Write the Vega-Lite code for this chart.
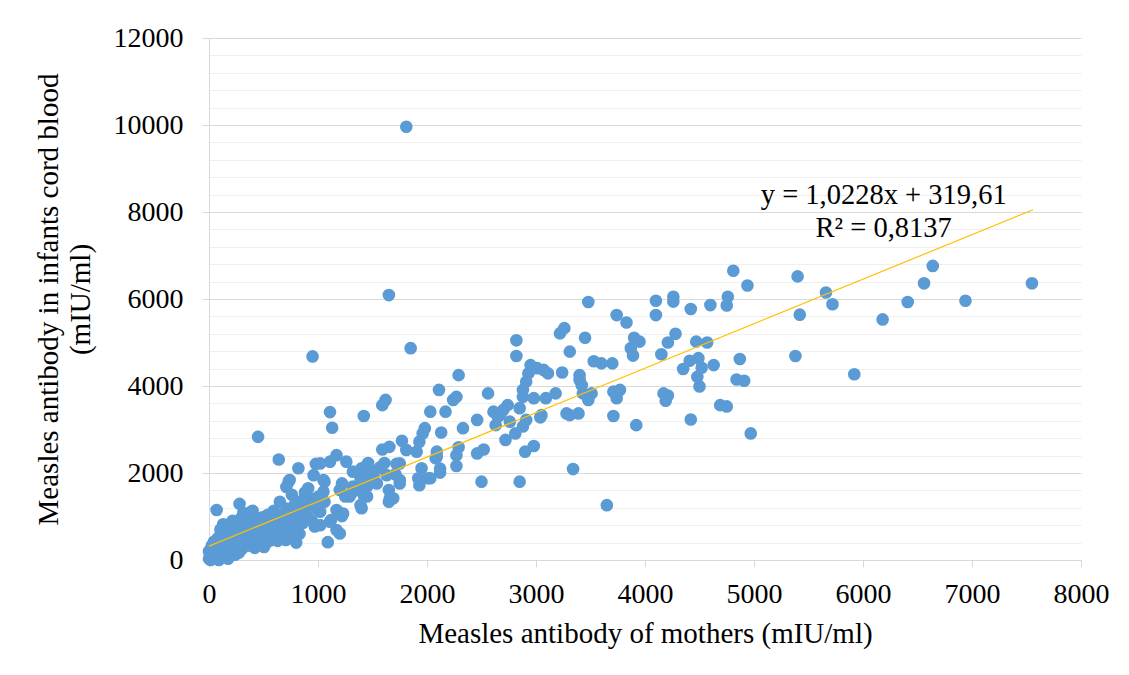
{
  "$schema": "https://vega.github.io/schema/vega-lite/v6.json",
  "width": 872,
  "height": 522,
  "autosize": {"type": "none"},
  "padding": {"left": 209, "top": 38, "right": 48, "bottom": 115},
  "background": "white",
  "config": {"view": {"stroke": null}, "font": "Liberation Serif"},
  "layer": [
    {
      "data": {"values": [
        {"m":1810,"c":9960},{"m":1650,"c":6090},{"m":1850,"c":4870},{"m":950,"c":4680},{"m":1590,"c":3560},{"m":1620,"c":3680},{"m":1420,"c":3310},{"m":1110,"c":3400},{"m":1130,"c":3040},{"m":450,"c":2830},{"m":640,"c":2310},{"m":820,"c":2110},
        {"m":3480,"c":5930},{"m":2820,"c":5050},{"m":3260,"c":5330},{"m":3220,"c":5210},{"m":3450,"c":5110},{"m":3310,"c":4790},{"m":2820,"c":4690},{"m":2290,"c":4250},{"m":2110,"c":3910},{"m":2240,"c":3680},{"m":2270,"c":3750},{"m":2030,"c":3410},{"m":2170,"c":3410},
        {"m":3900,"c":5110},{"m":3950,"c":5020},{"m":3890,"c":4700},{"m":3870,"c":4870},{"m":3530,"c":4570},{"m":3600,"c":4520},{"m":3700,"c":4520},{"m":3240,"c":4310},{"m":3400,"c":4250},{"m":3400,"c":4140},{"m":3420,"c":4020},{"m":3430,"c":3830},{"m":3480,"c":3680},{"m":2950,"c":4480},{"m":3010,"c":4410},{"m":3070,"c":4370},{"m":3110,"c":4290},{"m":2930,"c":4290},{"m":2910,"c":4100},{"m":2880,"c":3910},{"m":2880,"c":3750},{"m":2980,"c":3720},{"m":3090,"c":3720},{"m":3180,"c":3830},{"m":2850,"c":3490},{"m":2740,"c":3560},{"m":2610,"c":3410},{"m":2670,"c":3330},{"m":2560,"c":3830},{"m":2630,"c":3100},{"m":2650,"c":3300},{"m":2760,"c":3180},{"m":2720,"c":2760},{"m":2810,"c":2910},{"m":2880,"c":3070},{"m":2910,"c":3220},{"m":2900,"c":2490},{"m":2980,"c":2620},{"m":2850,"c":1800},{"m":3040,"c":3280},{"m":3050,"c":3330},{"m":3280,"c":3370},{"m":3310,"c":3330},{"m":3390,"c":3370},{"m":3710,"c":3310},{"m":3710,"c":3870},{"m":3770,"c":3910},{"m":3740,"c":3720},{"m":3920,"c":3100},{"m":3340,"c":2090},{"m":3650,"c":1260},{"m":2500,"c":1800},{"m":2460,"c":2450},{"m":2520,"c":2540},{"m":2460,"c":3220},{"m":2700,"c":3450},{"m":1980,"c":3030},{"m":2330,"c":3030},{"m":2130,"c":2930},{"m":2080,"c":2340},{"m":2090,"c":2490},{"m":2270,"c":2410},{"m":2290,"c":2590},{"m":2270,"c":2160},{"m":2120,"c":2010},{"m":2010,"c":1880},{"m":1930,"c":1720},{"m":3510,"c":3830},{"m":3740,"c":5630},{"m":3830,"c":5460},
        {"m":4810,"c":6650},{"m":4940,"c":6310},{"m":4760,"c":6050},{"m":4750,"c":5850},{"m":4600,"c":5860},{"m":5400,"c":6520},{"m":5420,"c":5640},{"m":5660,"c":6150},{"m":5720,"c":5880},{"m":6180,"c":5530},{"m":6410,"c":5930},{"m":6560,"c":6360},{"m":6640,"c":6760},{"m":6940,"c":5960},{"m":7550,"c":6360},{"m":4570,"c":5000},{"m":4470,"c":5020},{"m":4870,"c":4620},{"m":5380,"c":4690},{"m":4100,"c":5960},{"m":4260,"c":6050},{"m":4260,"c":5940},{"m":4100,"c":5630},{"m":4420,"c":5770},{"m":4280,"c":5200},{"m":4210,"c":5000},{"m":4150,"c":4730},{"m":4490,"c":4640},{"m":4410,"c":4580},{"m":4350,"c":4390},{"m":4520,"c":4420},{"m":4630,"c":4480},{"m":4480,"c":4210},{"m":4500,"c":3990},{"m":4840,"c":4150},{"m":4910,"c":4120},{"m":5920,"c":4270},{"m":4170,"c":3830},{"m":4190,"c":3660},{"m":4210,"c":3780},{"m":4420,"c":3230},{"m":4690,"c":3560},{"m":4750,"c":3530},{"m":4970,"c":2910},
        {"m":1960,"c":2910},{"m":1930,"c":2720},{"m":1770,"c":2740},{"m":1810,"c":2530},{"m":1590,"c":2540},{"m":1655,"c":2600},{"m":1720,"c":2210},{"m":1710,"c":1970},{"m":1610,"c":2230},{"m":1570,"c":2130},{"m":1460,"c":2150},{"m":1460,"c":2230},{"m":1650,"c":1610},{"m":1690,"c":1420},{"m":1650,"c":1340},{"m":1920,"c":1880},{"m":1750,"c":1760},{"m":1750,"c":1840},{"m":1460,"c":1910},{"m":1400,"c":2110},{"m":1320,"c":2030},{"m":1320,"c":1690},{"m":1290,"c":1460},{"m":1390,"c":1610},{"m":1450,"c":1760},{"m":1450,"c":1460},{"m":1390,"c":1260},{"m":1220,"c":1010},{"m":1170,"c":690},{"m":1090,"c":410},{"m":1110,"c":880},{"m":970,"c":770},{"m":980,"c":1190},{"m":900,"c":1000},{"m":800,"c":400},{"m":740,"c":1840},{"m":710,"c":1680},{"m":700,"c":1070},{"m":960,"c":1950},{"m":980,"c":2210},{"m":1110,"c":2260},{"m":1170,"c":2410},{"m":1260,"c":2260},{"m":910,"c":1650},{"m":1050,"c":1840},{"m":1050,"c":1570},{"m":1220,"c":1760},{"m":1250,"c":1460},{"m":1020,"c":1110},{"m":940,"c":920},{"m":1120,"c":920},{"m":1170,"c":1150},{"m":1200,"c":610},{"m":1020,"c":2220},{"m":1905,"c":2490},{"m":2090,"c":2380},{"m":1950,"c":2110},{"m":2120,"c":2100},{"m":2030,"c":1880},{"m":1750,"c":2220},{"m":1630,"c":1950},{"m":1510,"c":1950},{"m":1540,"c":1760},{"m":1390,"c":1880},{"m":1450,"c":1690},{"m":1420,"c":1490},{"m":1660,"c":1420},{"m":1400,"c":1190},{"m":1200,"c":1610},{"m":1260,"c":1490},{"m":1320,"c":1570},{"m":1060,"c":1800},{"m":1060,"c":1340},{"m":1230,"c":1070},{"m":1020,"c":800},
        {"m":70,"c":1150},{"m":280,"c":1290},{"m":400,"c":1130},{"m":650,"c":1340},{"m":730,"c":1800},
        {"m":0,"c":30},{"m":10,"c":120},{"m":20,"c":260},{"m":30,"c":60},{"m":40,"c":190},{"m":50,"c":340},{"m":15,"c":0},{"m":60,"c":100},{"m":0,"c":200},{"m":45,"c":420},{"m":25,"c":330},{"m":70,"c":250},
        {"m":80,"c":500},{"m":90,"c":150},{"m":100,"c":360},{"m":110,"c":620},{"m":120,"c":230},{"m":130,"c":820},{"m":140,"c":450},{"m":150,"c":90},{"m":105,"c":700},{"m":145,"c":560},{"m":90,"c":0},{"m":125,"c":300},
        {"m":160,"c":380},{"m":170,"c":730},{"m":180,"c":180},{"m":190,"c":520},{"m":200,"c":840},{"m":210,"c":290},{"m":220,"c":640},{"m":230,"c":420},{"m":240,"c":120},{"m":250,"c":760},{"m":175,"c":30},{"m":215,"c":900},{"m":245,"c":560},
        {"m":260,"c":330},{"m":270,"c":700},{"m":280,"c":480},{"m":290,"c":950},{"m":300,"c":250},{"m":310,"c":600},{"m":320,"c":820},{"m":330,"c":410},{"m":340,"c":1000},{"m":350,"c":540},{"m":275,"c":170},{"m":315,"c":1080},
        {"m":360,"c":700},{"m":370,"c":330},{"m":380,"c":880},{"m":390,"c":480},{"m":400,"c":1030},{"m":410,"c":600},{"m":420,"c":280},{"m":430,"c":790},{"m":440,"c":960},{"m":450,"c":420},{"m":385,"c":1110},{"m":445,"c":620},
        {"m":460,"c":820},{"m":470,"c":350},{"m":480,"c":680},{"m":490,"c":980},{"m":500,"c":520},{"m":510,"c":890},{"m":520,"c":380},{"m":530,"c":760},{"m":540,"c":1040},{"m":550,"c":600},{"m":505,"c":300},{"m":545,"c":870},
        {"m":560,"c":450},{"m":570,"c":930},{"m":580,"c":680},{"m":590,"c":800},{"m":600,"c":530},{"m":610,"c":1000},{"m":620,"c":720},{"m":630,"c":440},{"m":640,"c":880},{"m":650,"c":620},{"m":595,"c":1130},{"m":660,"c":780},
        {"m":670,"c":1000},{"m":680,"c":510},{"m":690,"c":850},{"m":700,"c":700},{"m":710,"c":1180},{"m":720,"c":600},{"m":730,"c":930},{"m":740,"c":800},{"m":750,"c":1050},{"m":760,"c":650},{"m":705,"c":460},
        {"m":770,"c":900},{"m":790,"c":1100},{"m":800,"c":770},{"m":820,"c":980},{"m":840,"c":1180},{"m":860,"c":850},{"m":880,"c":1260},{"m":850,"c":1050},{"m":830,"c":600},
        {"m":900,"c":1250},{"m":920,"c":1420},{"m":960,"c":1300},{"m":1000,"c":1450},{"m":1000,"c":1180},{"m":870,"c":1400},{"m":760,"c":1500},{"m":880,"c":1550},{"m":850,"c":1350},{"m":780,"c":1250}
      ]},
      "mark": {"type": "point", "filled": true, "size": 160, "color": "#5B9BD5", "opacity": 1},
      "encoding": {
        "x": {
          "field": "m", "type": "quantitative",
          "scale": {"domain": [0, 8000], "nice": false, "zero": false},
          "axis": {
            "title": "Measles antibody of mothers (mIU/ml)",
            "values": [0, 1000, 2000, 3000, 4000, 5000, 6000, 7000, 8000],
            "tickCount": 20,
            "format": "d", "grid": false, "labelOverlap": false,
            "domainColor": "#D9D9D9", "tickColor": "#D9D9D9", "tickSize": 7,
            "labelFont": "Liberation Serif", "labelFontSize": 28, "labelColor": "#000000", "labelPadding": 13, "labelFlush": false,
            "titleFont": "Liberation Serif", "titleFontSize": 29, "titleFontWeight": "normal", "titleColor": "#000000", "titlePadding": 11
          }
        },
        "y": {
          "field": "c", "type": "quantitative",
          "scale": {"domain": [0, 12000], "nice": false},
          "axis": {
            "title": ["Measles antibody in infants cord blood", "(mIU/ml)"],
            "values": [0, 400, 800, 1200, 1600, 2000, 2400, 2800, 3200, 3600, 4000, 4400, 4800, 5200, 5600, 6000, 6400, 6800, 7200, 7600, 8000, 8400, 8800, 9200, 9600, 10000, 10400, 10800, 11200, 11600, 12000],
            "tickCount": 40,
            "labelExpr": "datum.value % 2000 === 0 ? datum.label : ''",
            "labelOverlap": false,
            "format": "d", "grid": true,
            "gridColor": {"condition": {"test": "datum.value % 2000 === 0", "value": "#D9D9D9"}, "value": "#EFEFEF"},
            "tickColor": {"condition": {"test": "datum.value % 2000 === 0", "value": "#D9D9D9"}, "value": "transparent"},
            "domainColor": "#D9D9D9", "tickSize": 7,
            "labelFont": "Liberation Serif", "labelFontSize": 28, "labelColor": "#000000", "labelPadding": 19, "labelFlush": false,
            "titleFont": "Liberation Serif", "titleFontSize": 29, "titleFontWeight": "normal", "titleColor": "#000000", "titlePadding": 18, "titleLineHeight": 32
          }
        }
      }
    },
    {
      "data": {"values": [{"m": 0, "c": 319.61}, {"m": 7560, "c": 8052}]},
      "mark": {"type": "line", "color": "#FFC000", "strokeWidth": 1.2},
      "encoding": {
        "x": {"field": "m", "type": "quantitative"},
        "y": {"field": "c", "type": "quantitative"}
      }
    },
    {
      "data": {"values": [{}]},
      "mark": {"type": "text", "text": ["y = 1,0228x + 319,61", "R² = 0,8137"], "font": "Liberation Serif", "fontSize": 28.5, "lineHeight": 33, "align": "center", "baseline": "alphabetic", "color": "#000000"},
      "encoding": {
        "x": {"datum": 6190, "type": "quantitative"},
        "y": {"datum": 8180, "type": "quantitative"}
      }
    }
  ]
}
